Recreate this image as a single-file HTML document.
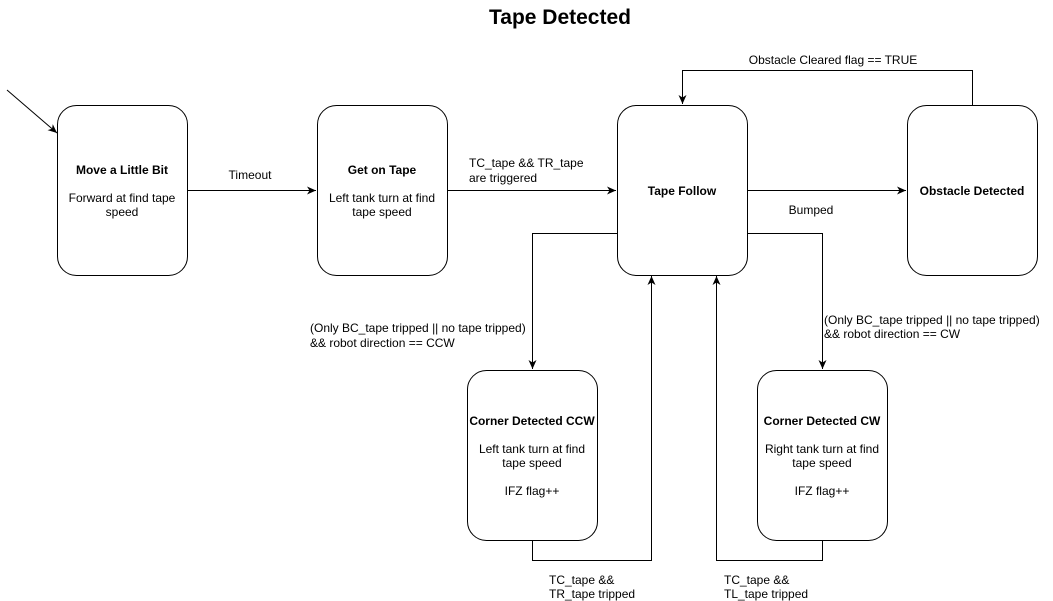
<!DOCTYPE html>
<html><head><meta charset="utf-8"><style>
html,body{margin:0;padding:0;background:#fff;width:1053px;height:601px;overflow:hidden}
svg{display:block;font-family:"Liberation Sans",Arial,sans-serif}
</style></head><body>
<svg width="1053" height="601" viewBox="0 0 1053 601" xmlns="http://www.w3.org/2000/svg">
<defs><marker id="a" markerWidth="10" markerHeight="10" refX="9" refY="5" orient="auto" markerUnits="userSpaceOnUse"><path d="M0,1 L9,5 L0,9 L2.5,5 Z" fill="#000"/></marker></defs>
<text x="560" y="24" text-anchor="middle" font-size="21" font-weight="bold">Tape Detected</text>
<g fill="#fff" stroke="#000" stroke-width="1">
<rect x="57.5" y="105.5" width="130" height="170" rx="19"/>
<rect x="317.5" y="105.5" width="130" height="170" rx="19"/>
<rect x="617.5" y="105.5" width="130" height="170" rx="19"/>
<rect x="907.5" y="105.5" width="130" height="170" rx="19"/>
<rect x="467.5" y="370.5" width="130" height="170" rx="19"/>
<rect x="757.5" y="370.5" width="130" height="170" rx="19"/>
</g>
<g fill="none" stroke="#000" stroke-width="1" marker-end="url(#a)">
<path d="M7,90 L57,133"/>
<path d="M187.5,190.5 H316"/>
<path d="M447.5,190.5 H616"/>
<path d="M747.5,190.5 H906"/>
<path d="M972.5,105 V70.5 H682.5 V104"/>
<path d="M617,233.5 H532.5 V369"/>
<path d="M748,233.5 H822.5 V369"/>
<path d="M532.5,541 V560.5 H651.5 V276"/>
<path d="M822.5,541 V560.5 H716.5 V276"/>
</g>
<g font-size="12" text-anchor="middle">
<text x="122" y="174" font-weight="bold">Move a Little Bit</text>
<text x="122" y="202">Forward at find tape</text>
<text x="122" y="216">speed</text>
<text x="382" y="174" font-weight="bold">Get on Tape</text>
<text x="382" y="202">Left tank turn at find</text>
<text x="382" y="216">tape speed</text>
<text x="682" y="195" font-weight="bold">Tape Follow</text>
<text x="972" y="195" font-weight="bold">Obstacle Detected</text>
<text x="532" y="425" font-weight="bold">Corner Detected CCW</text>
<text x="532" y="453">Left tank turn at find</text>
<text x="532" y="467">tape speed</text>
<text x="532" y="495">IFZ flag++</text>
<text x="822" y="425" font-weight="bold">Corner Detected CW</text>
<text x="822" y="453">Right tank turn at find</text>
<text x="822" y="467">tape speed</text>
<text x="822" y="495">IFZ flag++</text>
<text x="250" y="179">Timeout</text>
<text x="811" y="214">Bumped</text>
<text x="833" y="64">Obstacle Cleared flag == TRUE</text>
</g>
<g font-size="12">
<text x="469" y="167">TC_tape &amp;&amp; TR_tape</text>
<text x="469" y="182">are triggered</text>
<text x="310" y="332">(Only BC_tape tripped || no tape tripped)</text>
<text x="310" y="347">&amp;&amp; robot direction == CCW</text>
<text x="824" y="324">(Only BC_tape tripped || no tape tripped)</text>
<text x="824" y="338">&amp;&amp; robot direction == CW</text>
<text x="549" y="584">TC_tape &amp;&amp;</text>
<text x="549" y="598">TR_tape tripped</text>
<text x="724" y="584">TC_tape &amp;&amp;</text>
<text x="724" y="598">TL_tape tripped</text>
</g>
</svg>
</body></html>
